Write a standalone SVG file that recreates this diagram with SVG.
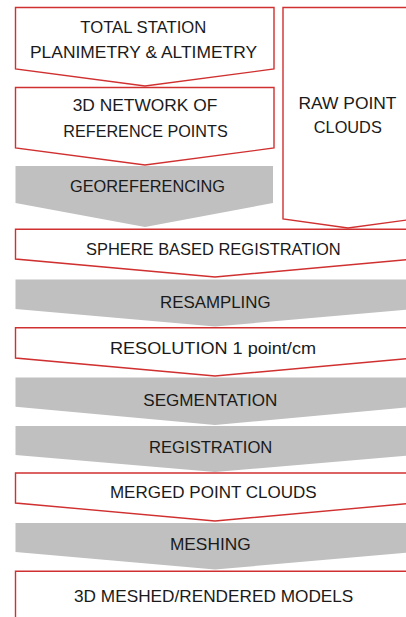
<svg xmlns="http://www.w3.org/2000/svg" width="406" height="617" viewBox="0 0 406 617">
<style>
.red{fill:#ffffff;stroke:#d03030;stroke-width:1.4;stroke-linejoin:miter}
.gray{fill:#c0c0c0;stroke:none}
text{font-family:"Liberation Sans",Arial,sans-serif;font-size:17px;fill:#1a1a1a;text-anchor:middle}
</style>
<rect width="406" height="617" fill="#ffffff"/>
<g id="raw-point-clouds">
<polygon class="red" points="283,7.5 414,7.5 414,219 348,228 283,219"/>
<text x="347.5" y="109.3" textLength="98" lengthAdjust="spacingAndGlyphs">RAW POINT</text>
<text x="347.8" y="133.3" textLength="68" lengthAdjust="spacingAndGlyphs">CLOUDS</text>
</g>
<g id="total-station">
<polygon class="red" points="15.5,7.5 274,7.5 274,69 145,86 15.5,69"/>
<text x="143.3" y="33.3" textLength="126" lengthAdjust="spacingAndGlyphs">TOTAL STATION</text>
<text x="143.5" y="58.3" textLength="227" lengthAdjust="spacingAndGlyphs">PLANIMETRY &amp; ALTIMETRY</text>
</g>
<g id="network">
<polygon class="red" points="15.5,87.5 274,87.5 274,148 145,165 15.5,148"/>
<text x="145" y="111" textLength="144.6" lengthAdjust="spacingAndGlyphs">3D NETWORK OF</text>
<text x="145.5" y="136.7" textLength="164.4" lengthAdjust="spacingAndGlyphs">REFERENCE POINTS</text>
</g>
<g id="georeferencing">
<polygon class="gray" points="15.5,166 273,166 273,203 145,227 15.5,203"/>
<text x="147.5" y="192.3" textLength="155" lengthAdjust="spacingAndGlyphs">GEOREFERENCING</text>
</g>
<g id="sphere-registration">
<polygon class="red" points="15.5,229.3 414.5,229.3 414.5,259 215,277 15.5,259"/>
<text x="213.3" y="255.3" textLength="254.7" lengthAdjust="spacingAndGlyphs">SPHERE BASED REGISTRATION</text>
</g>
<g id="resampling">
<polygon class="gray" points="15.5,279.5 414.5,279.5 414.5,309 215,326.5 15.5,309"/>
<text x="215.3" y="308.3" textLength="110.7" lengthAdjust="spacingAndGlyphs">RESAMPLING</text>
</g>
<g id="resolution">
<polygon class="red" points="15.5,327.7 414.5,327.7 414.5,358 215,376 15.5,358"/>
<text x="213" y="354" textLength="206" lengthAdjust="spacingAndGlyphs">RESOLUTION 1 point/cm</text>
</g>
<g id="segmentation">
<polygon class="gray" points="15.5,377.5 414.5,377.5 414.5,406.7 215,425 15.5,406.7"/>
<text x="210.3" y="405.7" textLength="134" lengthAdjust="spacingAndGlyphs">SEGMENTATION</text>
</g>
<g id="registration">
<polygon class="gray" points="15.5,426 414.5,426 414.5,455 215,472 15.5,455"/>
<text x="210.7" y="452.7" textLength="123.3" lengthAdjust="spacingAndGlyphs">REGISTRATION</text>
</g>
<g id="merged">
<polygon class="red" points="15.5,473 414.5,473 414.5,503 215,521 15.5,503"/>
<text x="213.3" y="497.7" textLength="206.7" lengthAdjust="spacingAndGlyphs">MERGED POINT CLOUDS</text>
</g>
<g id="meshing">
<polygon class="gray" points="15.5,523 414.5,523 414.5,552 215,569.5 15.5,552"/>
<text x="210.3" y="550" textLength="80.7" lengthAdjust="spacingAndGlyphs">MESHING</text>
</g>
<g id="models">
<polygon class="red" points="15.5,571.3 414.5,571.3 414.5,630 15.5,630"/>
<text x="213.7" y="601.7" textLength="279.3" lengthAdjust="spacingAndGlyphs">3D MESHED/RENDERED MODELS</text>
</g>
<g id="connectors"></g>
</svg>
